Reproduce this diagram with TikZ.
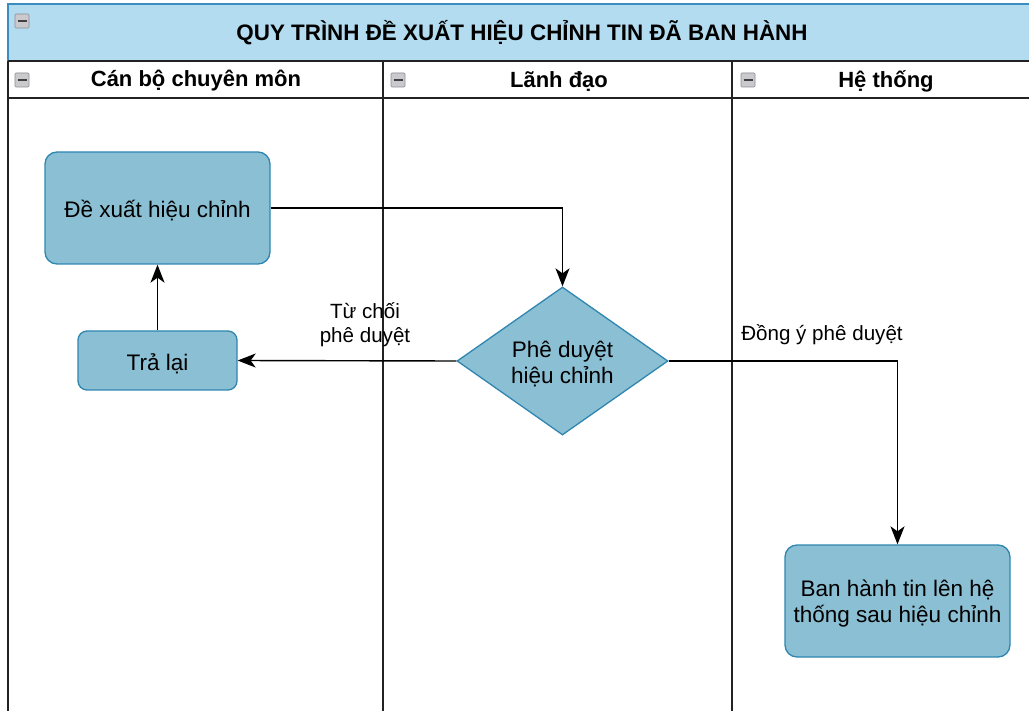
\documentclass[tikz,border=0pt]{standalone}
\usepackage{fontspec}
\setmainfont{Liberation Sans}
\usetikzlibrary{shapes.geometric,arrows.meta}
\definecolor{titlefill}{HTML}{B3DCF0}
\definecolor{titleline}{HTML}{3D8CC0}
\definecolor{boxfill}{HTML}{8BBFD3}
\definecolor{boxline}{HTML}{2F86B0}
\definecolor{iconfill}{HTML}{CACACE}
\definecolor{iconline}{HTML}{8C8C92}
\definecolor{laneline}{HTML}{222222}

\tikzset{
  proc/.style={draw=boxline, fill=boxfill, line width=1.3pt, rounded corners=12pt, inner sep=0pt},
  decide/.style={draw=boxline, fill=boxfill, line width=1.3pt, diamond, aspect=1.42, inner sep=0pt,
    minimum width=211pt, minimum height=148pt},
  ptext/.style={align=center, font=\fontsize{22.5}{26}\selectfont, inner sep=0pt, yshift=-3pt},
  flow/.style={draw=black, line width=1.4pt, -{Stealth[length=18pt,width=14pt,inset=5pt]}},
  flowlabel/.style={align=center, font=\fontsize{20.6}{24}\selectfont, inner sep=0pt},
  lanehead/.style={font=\bfseries\fontsize{22}{26}\selectfont},
  lane/.style={draw=laneline, line width=1.3pt},
  minusicon/.pic={
    \draw[iconline, fill=iconfill, line width=0.6pt, rounded corners=1pt] (-7,-7) rectangle (7,7);
    \draw[black!75, line width=2pt] (-4.5,0) -- (4.5,0);
  }
}

\begin{document}
\begin{tikzpicture}[x=1pt,y=-1pt]
  \useasboundingbox (0,0) rectangle (1029,711);
  \fill[white] (0,0) rectangle (1029,711);

  % title bar
  \fill[titlefill] (8,4) rectangle (1040,61);
  \draw[titleline, line width=1.5pt] (8,61) -- (8,4) -- (1040,4);
  \node[font=\bfseries\fontsize{22.4}{26}\selectfont] (title) at (522,33)
    {QUY TRÌNH ĐỀ XUẤT HIỆU CHỈNH TIN ĐÃ BAN HÀNH};
  \pic at (22,21) {minusicon};

  % pool frame and lanes
  \draw[lane] (8,61) -- (1040,61);
  \draw[lane] (8,98) -- (1040,98);
  \draw[lane] (8,61) -- (8,711);
  \draw[lane] (383,61) -- (383,711);
  \draw[lane] (732,61) -- (732,711);

  \node[lanehead] (h1) at (196,81) {Cán bộ chuyên môn};
  \node[lanehead] (h2) at (559,81) {Lãnh đạo};
  \node[lanehead] (h3) at (886,81) {Hệ thống};
  \pic at (22,80) {minusicon};
  \pic at (398,80) {minusicon};
  \pic at (748,80) {minusicon};

  % process steps
  \node[proc, minimum width=225pt, minimum height=112pt,
    label={[ptext, name=propose-text]center:Đề xuất hiệu chỉnh}] (propose) at (157.5,208) {};
  \node[proc, minimum width=159pt, minimum height=59pt, rounded corners=9pt,
    label={[ptext, name=back-text]center:Trả lại}] (back) at (157.5,360.5) {};
  \node[decide, label={[ptext, name=approve-text]center:{Phê duyệt\\hiệu chỉnh}}] (approve) at (562.5,361) {};
  \node[proc, minimum width=225pt, minimum height=112pt,
    label={[ptext, name=publish-text]center:{Ban hành tin lên hệ\\thống sau hiệu chỉnh}}] (publish) at (897.5,601) {};

  % connectors
  \draw[flow] (propose.east) -| (approve.north);
  \draw[flow] (approve.west) -- (back.east);
  \draw[flow] (back.north) -- (propose.south);
  \draw[flow] (approve.east) -| (publish.north);

  \node[flowlabel] (lreject) at (365,325) {Từ chối\\phê duyệt};
  \node[flowlabel] (laccept) at (822,335) {Đồng ý phê duyệt};
\end{tikzpicture}
\end{document}
